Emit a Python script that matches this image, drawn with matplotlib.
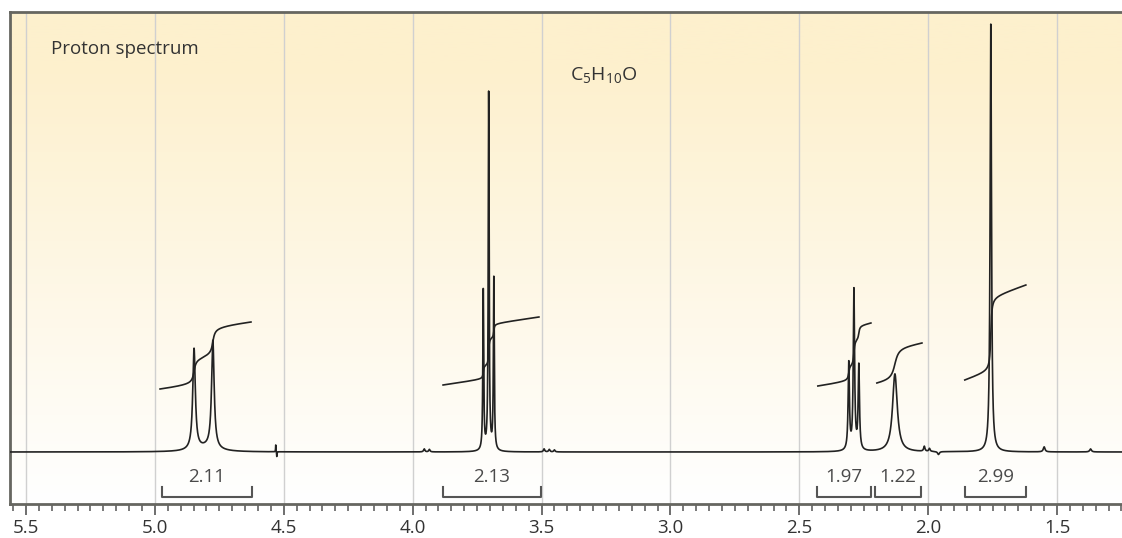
import numpy as np
import matplotlib
matplotlib.use("Agg")
import matplotlib.pyplot as plt
from matplotlib.colors import LinearSegmentedColormap

plt.rcParams['font.family'] = ['Open Sans', 'DejaVu Sans']
plt.rcParams['mathtext.fontset'] = 'custom'
plt.rcParams['mathtext.rm'] = 'Open Sans'

# peaks: shift (ppm), height (px above baseline), half width (ppm)
peak_ppm = [4.848, 4.775, 4.80, 3.726, 3.705, 3.685, 2.308, 2.288, 2.269, 2.129, 1.757]
peak_height = [101, 108, 4, 160, 358, 172, 87, 160, 84, 78, 428]
peak_width = [0.006, 0.006, 0.05, 0.002, 0.002, 0.002, 0.003, 0.003, 0.003, 0.011, 0.0032]

# small wiggles on the baseline
noise_ppm = [4.531, 4.527, 3.955, 3.935, 3.49, 3.47, 3.45, 2.015, 1.995, 1.96, 1.55, 1.37]
noise_height = [7, -5, 3, 2.5, 3, 2.5, 2, 5, 3, -3, 5, 3]
noise_width = [0.0008, 0.0008, 0.003, 0.003, 0.003, 0.003, 0.003, 0.003, 0.003, 0.004, 0.004, 0.004]

# integration regions: start ppm, end ppm, start height, end height, drift share
int_start = [4.980, 3.882, 2.428, 2.199, 1.858]
int_end = [4.627, 3.510, 2.222, 2.024, 1.621]
int_h0 = [63, 67, 66, 69, 72]
int_h1 = [130, 135, 129, 109, 167]
int_drift = [0.16, 0.2, 0.12, 0.2, 0.22]
int_labels = ["2.11", "2.13", "1.97", "1.22", "2.99"]

# bracket ends under each integral
br_left = [4.972, 3.882, 2.432, 2.207, 1.858]
br_right = [4.623, 3.502, 2.222, 2.028, 1.621]

x = np.linspace(5.562, 1.248, 30000)


def lorentz(x, x0, h, g):
    return h * g ** 2 / (g ** 2 + (x - x0) ** 2)


spec = np.zeros_like(x)
for p, h, g in zip(peak_ppm, peak_height, peak_width):
    spec += lorentz(x, p, h, g)
for p, h, g in zip(noise_ppm, noise_height, noise_width):
    spec += lorentz(x, p, h, g)

fig = plt.figure(figsize=(11.22, 5.38), dpi=100)
ax = fig.add_axes([10 / 1122, 1 - 504 / 538, 1 - 10 / 1122, (504 - 12) / 538])
ax.set_xlim(5.562, 1.248)
ax.set_ylim(-52, 440)

# yellow gradient background
top_col = np.array([253, 240, 205]) / 255
grad = np.linspace(1, 0, 300)
grad = np.clip(grad * 492 / 440, 0, 1)
cmap = LinearSegmentedColormap.from_list("bg", ["white", top_col])
ax.imshow(grad[:, None], aspect='auto', cmap=cmap, vmin=0, vmax=1,
          extent=[5.562, 1.248, -52, 440], zorder=0)

for g in np.arange(5.5, 1.2, -0.5):
    ax.axvline(g, color='#d0d0d0', lw=1, zorder=1)

ax.plot(x, spec, color='#222222', lw=1.2, zorder=3)

for s, e, h0, h1, d in zip(int_start, int_end, int_h0, int_h1, int_drift):
    m = (x <= s) & (x >= e)
    xs = x[m]
    c = np.cumsum(spec[m])
    c = c / c[-1]
    lin = (s - xs) / (s - e)
    ax.plot(xs, h0 + (h1 - h0) * (d * lin + (1 - d) * c), color='#222222', lw=1.2, zorder=3)

for l, r, lab in zip(br_left, br_right, int_labels):
    ax.plot([l, l, r, r], [-35, -45, -45, -35], color='#555555', lw=1.5, zorder=3)
    ax.text((l + r) / 2, -25, lab, ha='center', va='center', fontsize=13.5, color='#4a4a4a')

ax.text(5.403, 403, "Proton spectrum", ha='left', va='center', fontsize=13.5, color='#333333')
ax.text(3.39, 376, r"C$_5$H$_{10}$O", ha='left', va='center', fontsize=14, color='#333333')

ax.set_xticks(np.arange(5.5, 1.2, -0.5))
ax.set_xticklabels(["5.5", "5.0", "4.5", "4.0", "3.5", "3.0", "2.5", "2.0", "1.5"])
ax.set_xticks(np.arange(5.55, 1.2, -0.05), minor=True)
ax.tick_params(axis='x', which='major', length=8, width=1.2, color='#555555',
               labelsize=13.5, labelcolor='#333333', pad=3)
ax.tick_params(axis='x', which='minor', length=5, width=1.1, color='#555555')
ax.set_yticks([])

for side in ['left', 'top', 'bottom']:
    ax.spines[side].set_color('#666660')
    ax.spines[side].set_linewidth(2)
ax.spines['right'].set_visible(False)

fig.savefig("out.png", dpi=100)
